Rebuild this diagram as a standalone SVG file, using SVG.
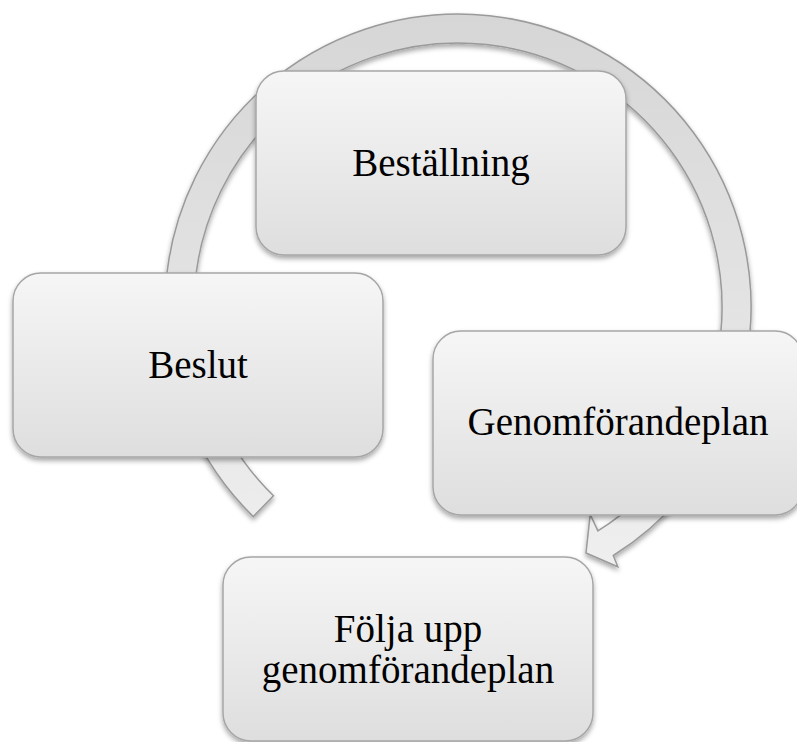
<svg xmlns="http://www.w3.org/2000/svg" width="797" height="742" viewBox="0 0 797 742">
  <defs>
    <linearGradient id="boxGrad" x1="0" y1="0" x2="0" y2="1">
      <stop offset="0" stop-color="#f6f6f6"/>
      <stop offset="1" stop-color="#dedede"/>
    </linearGradient>
    <linearGradient id="ringGrad" gradientUnits="userSpaceOnUse" x1="0" y1="14" x2="0" y2="570">
      <stop offset="0" stop-color="#d6d6d6"/>
      <stop offset="1" stop-color="#efefef"/>
    </linearGradient>
    <filter id="shadow" x="-10%" y="-10%" width="120%" height="125%">
      <feDropShadow dx="0" dy="3" stdDeviation="2.5" flood-color="#000" flood-opacity="0.35"/>
    </filter>
  </defs>
  <style>
    .box { fill: url(#boxGrad); stroke: #a6a6a6; stroke-width: 1.5; filter: url(#shadow); }
    .lbl { font-family: "Liberation Serif", "Times New Roman", serif; font-size: 39px; fill: #000; text-anchor: middle; }
    .ring { fill: url(#ringGrad); stroke: #9a9a9a; stroke-width: 1.5; stroke-linejoin: miter; filter: url(#shadow); }
  </style>
  <rect width="797" height="742" fill="#ffffff"/>
  <g id="connectors">
    <path class="ring" d="M 253.3 516.6 A 293 293 0 1 1 613.3 555.5 L 617.8 566.8 L 586 553 L 590.2 514.5 L 597.9 530.9 A 264 264 0 1 0 273.5 495.8 Z"/>
  </g>
  <g id="node-bestallning">
    <rect class="box" x="256" y="71" width="370" height="184" rx="28" ry="28"/>
    <text class="lbl" x="441" y="176">Beställning</text>
  </g>
  <g id="node-beslut">
    <rect class="box" x="13" y="273" width="370" height="184" rx="28" ry="28"/>
    <text class="lbl" x="198" y="378">Beslut</text>
  </g>
  <g id="node-genomforandeplan">
    <rect class="box" x="433" y="331" width="370" height="184" rx="28" ry="28"/>
    <text class="lbl" x="618" y="435">Genomförandeplan</text>
  </g>
  <g id="node-folja">
    <rect class="box" x="223" y="557" width="370" height="184" rx="28" ry="28"/>
    <text class="lbl" x="408" y="641.5">Följa upp</text>
    <text class="lbl" x="408" y="683">genomförandeplan</text>
  </g>
</svg>
